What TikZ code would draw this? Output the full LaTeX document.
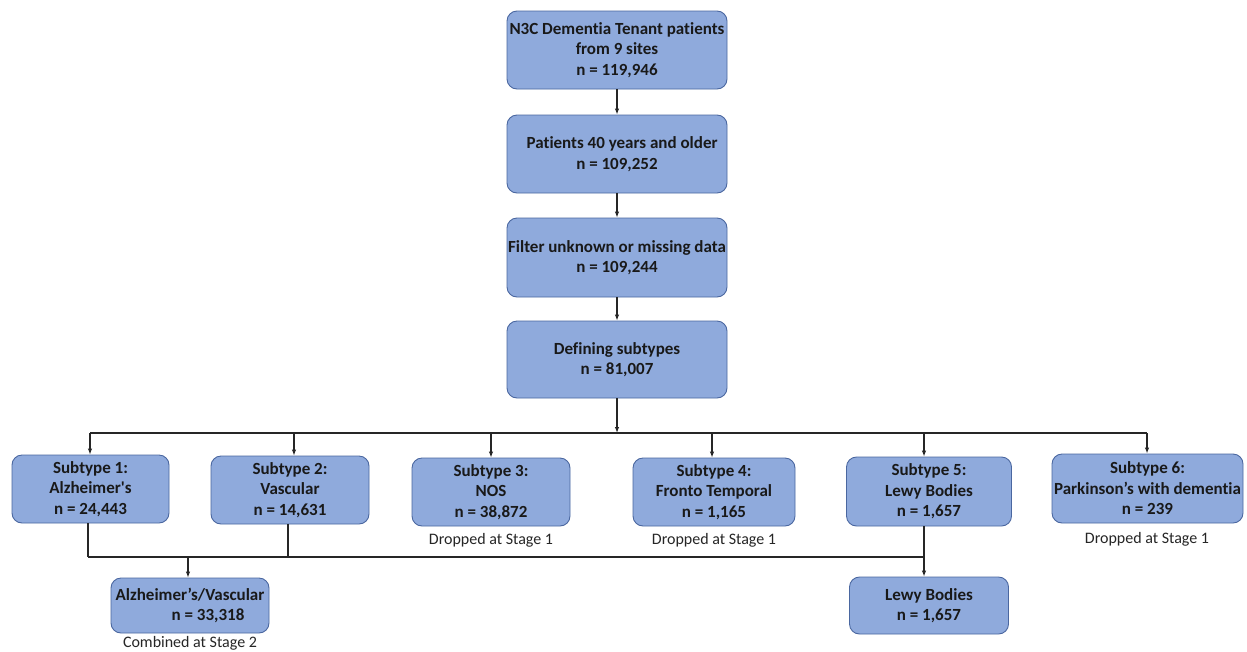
\documentclass[tikz,border=0pt]{standalone}
\usepackage{fontspec}
\newfontfamily\calfont{Carlito}[RawFeature={-liga;-calt;-dlig}]
\usetikzlibrary{arrows.meta}
\definecolor{boxfill}{HTML}{8FAADC}
\definecolor{boxline}{HTML}{4A67A0}
\definecolor{conn}{HTML}{262626}
\begin{document}
\begin{tikzpicture}[x=1pt,y=-1pt,
  box/.style={draw=boxline,fill=boxfill,line width=0.9pt,rounded corners=10pt,
    inner sep=0pt,align=center,font=\calfont\fontsize{17}{20.5}\selectfont\bfseries,text=black!90},
  note/.style={inner sep=0pt,font=\calfont\fontsize{16}{19}\selectfont,text=black!85},
  link/.style={draw=conn,line width=1.1pt},
  arr/.style={link,-{Latex[length=6pt,width=4.5pt]}}]
\useasboundingbox (0,0) rectangle (1247,651);
\fill[white] (0,0) rectangle (1247,651);
% main chain
\node[box,minimum width=220pt,minimum height=78pt] (b1) at (617,50) {N3C Dementia Tenant patients\\from 9 sites\\n = 119,946};
\node[box,minimum width=220pt,minimum height=78pt] (b2) at (617,154) {\hspace*{0.6em}Patients 40 years and older\\n = 109,252};
\node[box,minimum width=220pt,minimum height=79pt] (b3) at (617,257.5) {Filter unknown or missing data\\n = 109,244};
\node[box,minimum width=220pt,minimum height=77pt] (b4) at (617,359.5) {Defining subtypes\\n = 81,007};
% subtypes
\node[box,minimum width=157pt,minimum height=68pt] (s1) at (90.5,489) {Subtype 1:\\Alzheimer's\\n = 24,443};
\node[box,minimum width=158pt,minimum height=68pt] (s2) at (290,490) {Subtype 2:\\Vascular\\n = 14,631};
\node[box,minimum width=158pt,minimum height=68pt] (s3) at (491,492) {Subtype 3:\\NOS\\n = 38,872};
\node[box,minimum width=162pt,minimum height=68pt] (s4) at (714,492) {Subtype 4:\\Fronto Temporal\\n = 1,165};
\node[box,minimum width=165pt,minimum height=69pt] (s5) at (929,491.5) {Subtype 5:\\Lewy Bodies\\n = 1,657};
\node[box,minimum width=191pt,minimum height=69pt] (s6) at (1147.5,488.5) {Subtype 6:\\Parkinson’s with dementia\\n = 239};
% final
\node[box,minimum width=158pt,minimum height=55pt,align=left] (av) at (190,605.5) {Alzheimer’s/Vascular\\\hspace*{3.3em}n = 33,318};
\node[box,minimum width=159pt,minimum height=57pt] (lb) at (929,605.5) {Lewy Bodies\\n = 1,657};
% notes
\node[note] (n3) at (491,540) {Dropped at Stage 1};
\node[note] (n4) at (714,540) {Dropped at Stage 1};
\node[note] (n6) at (1147,539) {Dropped at Stage 1};
\node[note] (n2) at (190,643) {Combined at Stage 2};
% coordinates
\coordinate (t0) at (617,433);
\coordinate (tl) at (90,433);
\coordinate (tr) at (1147,433);
\coordinate (m1) at (88,557);
\coordinate (m2) at (288,557);
\coordinate (mav) at (188,557);
\coordinate (m5) at (924,557);
% connectors
\draw[arr] (b1) -- (b2);
\draw[arr] (b2) -- (b3);
\draw[arr] (b3) -- (b4);
\draw[arr] (b4) -- (t0);
\draw[link] (tl) -- (tr);
\draw[arr] (tl) -- (s1.north -| tl);
\draw[arr] (294,433) -- (s2.north -| 294,0);
\draw[arr] (491,433) -- (s3.north);
\draw[arr] (712,433) -- (s4.north -| 712,0);
\draw[arr] (924,433) -- (s5.north -| m5);
\draw[arr] (tr) -- (s6.north -| tr);
\draw[link] (s1.south -| m1) -- (m1);
\draw[link] (s2.south -| m2) -- (m2);
\draw[link] (m1) -- (m5);
\draw[arr] (s5.south -| m5) -- (lb.north -| m5);
\draw[arr] (mav) -- (av.north -| mav);
\end{tikzpicture}
\end{document}
